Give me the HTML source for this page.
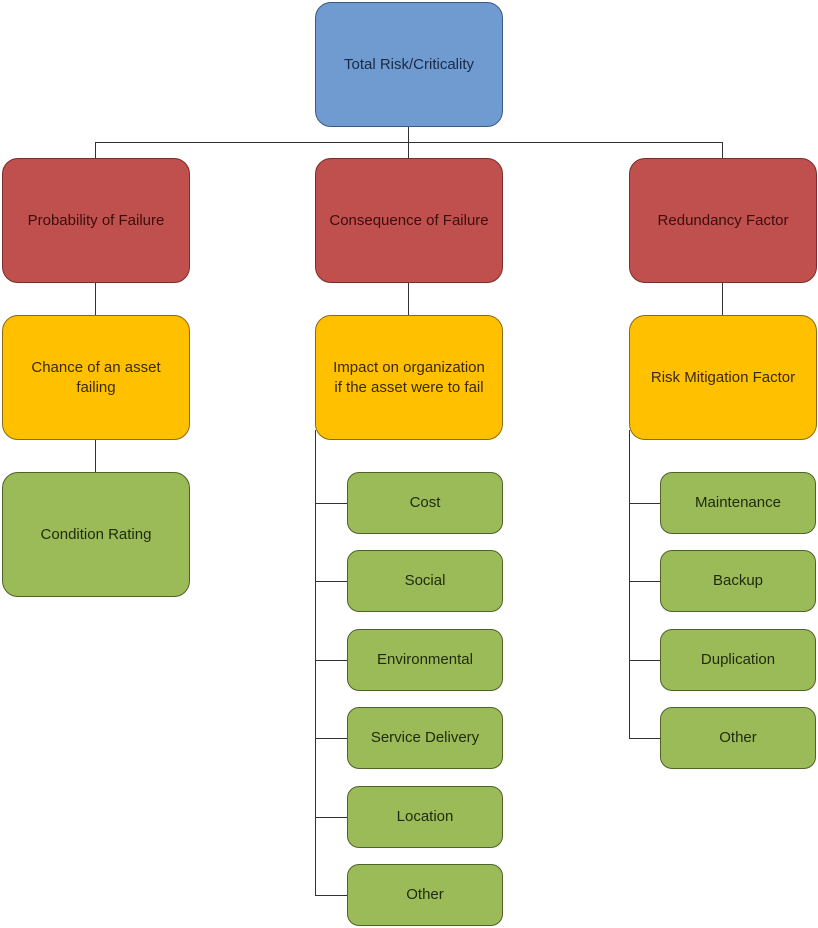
<!DOCTYPE html>
<html><head><style>
body{margin:0;width:818px;height:928px;background:#fff;position:relative;overflow:hidden;font-family:"Liberation Sans",sans-serif;}
.b{position:absolute;box-sizing:border-box;border:1.5px solid;border-radius:16px;display:flex;align-items:center;justify-content:center;text-align:center;font-size:15px;line-height:20px;}
.bl{background:#6f9bd1;border-color:#3b5a80;color:#1a2a45;}
.r{background:#c0504d;border-color:#7a2c2a;color:#3a0e0d;}
.y{background:#ffc000;border-color:#8a6a10;color:#3a2a00;}
.g{background:#9bbb59;border-color:#4f6228;color:#1f2a0a;border-radius:12px;}
.l{position:absolute;background:#333;}
</style></head><body>
<div class="l" style="left:95px;top:142px;width:628px;height:1px"></div>
<div class="l" style="left:408px;top:127px;width:1px;height:31px"></div>
<div class="l" style="left:95px;top:142px;width:1px;height:16px"></div>
<div class="l" style="left:722px;top:142px;width:1px;height:16px"></div>
<div class="l" style="left:95px;top:283px;width:1px;height:32px"></div>
<div class="l" style="left:408px;top:283px;width:1px;height:32px"></div>
<div class="l" style="left:722px;top:283px;width:1px;height:32px"></div>
<div class="l" style="left:95px;top:440px;width:1px;height:32px"></div>
<div class="l" style="left:315px;top:430px;width:1px;height:465px"></div>
<div class="l" style="left:629px;top:430px;width:1px;height:308px"></div>
<div class="l" style="left:315px;top:503px;width:32px;height:1px"></div>
<div class="l" style="left:315px;top:581px;width:32px;height:1px"></div>
<div class="l" style="left:315px;top:660px;width:32px;height:1px"></div>
<div class="l" style="left:315px;top:738px;width:32px;height:1px"></div>
<div class="l" style="left:315px;top:817px;width:32px;height:1px"></div>
<div class="l" style="left:315px;top:895px;width:32px;height:1px"></div>
<div class="l" style="left:629px;top:503px;width:32px;height:1px"></div>
<div class="l" style="left:629px;top:581px;width:32px;height:1px"></div>
<div class="l" style="left:629px;top:660px;width:32px;height:1px"></div>
<div class="l" style="left:629px;top:738px;width:32px;height:1px"></div>

<div class="b bl" style="left:315px;top:2px;width:188px;height:125px">Total Risk/Criticality</div>
<div class="b r" style="left:2px;top:158px;width:188px;height:125px">Probability of Failure</div>
<div class="b r" style="left:315px;top:158px;width:188px;height:125px">Consequence of Failure</div>
<div class="b r" style="left:629px;top:158px;width:188px;height:125px">Redundancy Factor</div>
<div class="b y" style="left:2px;top:315px;width:188px;height:125px">Chance of an asset<br>failing</div>
<div class="b y" style="left:315px;top:315px;width:188px;height:125px">Impact on organization<br>if the asset were to fail</div>
<div class="b y" style="left:629px;top:315px;width:188px;height:125px">Risk Mitigation Factor</div>
<div class="b g" style="left:2px;top:472px;width:188px;height:125px;border-radius:16px">Condition Rating</div>

<div class="b g" style="left:347px;top:472px;width:156px;height:62px">Cost</div>
<div class="b g" style="left:347px;top:550px;width:156px;height:62px">Social</div>
<div class="b g" style="left:347px;top:629px;width:156px;height:62px">Environmental</div>
<div class="b g" style="left:347px;top:707px;width:156px;height:62px">Service Delivery</div>
<div class="b g" style="left:347px;top:786px;width:156px;height:62px">Location</div>
<div class="b g" style="left:347px;top:864px;width:156px;height:62px">Other</div>

<div class="b g" style="left:660px;top:472px;width:156px;height:62px">Maintenance</div>
<div class="b g" style="left:660px;top:550px;width:156px;height:62px">Backup</div>
<div class="b g" style="left:660px;top:629px;width:156px;height:62px">Duplication</div>
<div class="b g" style="left:660px;top:707px;width:156px;height:62px">Other</div>
</body></html>
